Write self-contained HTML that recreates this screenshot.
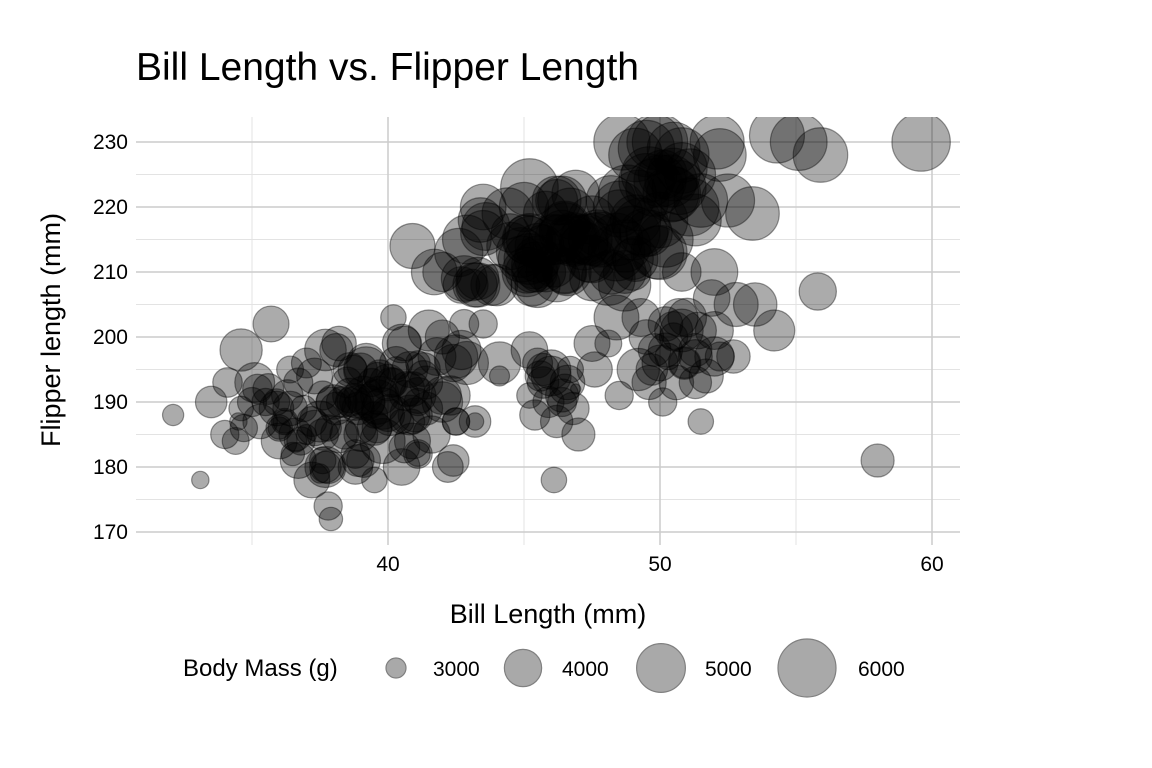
<!DOCTYPE html>
<html><head><meta charset="utf-8">
<style>
body{margin:0;background:#fff;}
svg{display:block;font-family:"Liberation Sans",sans-serif;}
</style></head>
<body>
<svg id="chart" width="1152" height="768">
<text x="136" y="80" font-size="39" fill="#000">Bill Length vs. Flipper Length</text>
<g id="grid"></g>
<defs><clipPath id="clip"><rect x="136" y="117" width="824" height="428"/></clipPath></defs>
<g id="points" clip-path="url(#clip)"></g>
<g id="axes"></g>
<text x="548" y="623" font-size="27" text-anchor="middle">Bill Length (mm)</text>
<text transform="translate(60,330) rotate(-90)" font-size="27" text-anchor="middle">Flipper length (mm)</text>
<g id="legend"></g>
</svg>
<script>
const xTicks=[40,50,60];
const yTicks=[170,180,190,200,210,220,230];
const legendMass=[3000,4000,5000,6000];
const billLength=[39.1,39.5,40.3,36.7,39.3,38.9,39.2,34.1,42,37.8,37.8,41.1,38.6,34.6,36.6,38.7,42.5,34.4,46,37.8,37.7,35.9,38.2,38.8,35.3,40.6,40.5,37.9,40.5,39.5,37.2,39.5,40.9,36.4,39.2,38.8,42.2,37.6,39.8,36.5,40.8,36,44.1,37,39.6,41.1,37.5,42.3,39.6,40.1,35,42,34.5,41.4,39,40.6,37.6,35.7,41.3,37.6,41.1,36.2,37.7,40.2,36.4,39.0,38.3,41.1,36.0,38.9,41.5,37.9,40.0,36.6,41.3,38.8,35.5,40.9,37.2,40.5,38.1,36.8,40.6,35.9,38.4,41.0,37.3,39.7,36.3,40.7,38.6,42.4,33.5,34.0,32.1,33.1,35.1,34.6,36.2,38.5,39.7,41.8,40.3,42.9,43.2,44.1,39.0,37.7,38.1,36.9,40.1,38.0,39.6,41.6,42.7,39.2,40.2,37.3,35.6,38.8,40.8,42.0,41.1,36.7,39.4,38.2,37.0,39.1,40.0,42.8,35.2,34.7,36.0,37.5,39.8,41.4,43.1,38.6,
46.1,50,48.7,50,47.6,46.5,45.4,46.7,43.3,46.8,40.9,49,45.5,48.4,45.8,49.3,42,49.2,46.2,48.7,50.2,45.1,46.5,46.3,42.9,46.1,44.5,47.8,48.2,50,47.3,42.8,45.1,59.6,49.1,48.4,42.6,44.4,44,48.7,42.7,49.6,45.3,49.6,50.5,43.6,45.5,50.5,44.9,45.2,46.6,48.5,45.1,50.1,46.5,45,43.8,45.5,43.2,50.4,45.3,46.2,45.7,54.3,45.8,49.8,49.5,43.5,50.7,47.7,46.4,48.2,46.5,46.4,48.6,47.5,51.1,45.2,45.2,49.1,52.5,47.4,50,44.9,50.8,43.4,51.3,47.5,52.1,47.5,52.2,45.5,49.5,44.5,50.8,49.4,46.9,48.4,51.1,48.5,55.9,47.2,49.1,46.8,41.7,53.4,43.3,48.1,50.5,49.8,43.5,51.5,46.2,55.1,48.8,47.2,46.8,50.4,45.2,49.9,
46.5,50,51.3,45.4,52.7,45.2,46.1,51.3,46,51.3,46.6,51.7,47,52,45.9,50.5,50.3,58,46.4,49.2,42.4,48.5,43.2,50.6,46.7,52,50.5,49.5,46.4,52.8,40.9,54.2,42.5,51,49.7,47.5,47.6,52,46.9,53.5,49,46.2,50.9,45.5,50.9,50.8,50.1,49,51.5,49.8,48.1,51.4,45.7,50.7,42.5,52.2,45.2,49.3,50.2,45.6,51.9,46.8,45.7,55.8,43.5,49.6,50.8,50.2];
const flipperLength=[181,186,195,193,190,181,195,193,190,186,180,182,191,198,185,195,197,184,194,174,180,189,185,180,187,183,187,172,180,178,178,188,184,195,196,190,180,181,184,182,195,186,196,185,190,182,179,191,186,188,190,191,187,189,186,199,191,202,194,185,190,187,198,193,189,195,190,191,186,189,201,190,193,184,195,182,190,192,187,199,189,184,191,190,185,188,194,194,191,192,195,196,190,185,188,178,193,189,187,193,191,197,196,196,187,194,185,180,198,189,193,190,194,185,198,190,203,186,192,190,188,200,196,181,193,199,196,191,188,202,192,186,184,187,189,193,208,190,
211,230,210,218,215,210,211,219,209,215,214,216,214,213,210,217,210,221,209,214,215,215,210,215,215,215,216,215,210,213,215,209,210,230,218,215,213,219,208,208,208,225,210,216,222,217,210,225,213,215,210,220,210,225,217,220,208,208,208,224,208,221,214,231,219,230,229,220,223,216,221,221,217,216,230,209,220,215,223,212,221,212,224,212,228,218,218,212,230,218,228,212,224,214,226,216,222,203,225,219,228,215,228,215,210,219,208,209,229,223,216,221,221,230,222,214,215,222,212,213,
192,196,193,188,197,198,178,197,195,198,193,194,185,201,190,201,197,181,190,195,181,191,187,193,195,197,200,200,191,205,187,201,187,203,195,199,195,210,192,205,210,187,196,196,196,201,190,212,187,198,199,201,193,203,187,197,191,203,202,194,206,189,195,207,202,193,210,198];
const bodyMass=[3750,3800,3250,3450,3650,3625,4675,3475,4250,3300,3700,3200,3800,4400,3700,3450,4500,3325,4200,3400,3600,3800,3950,3800,3800,3550,3200,3150,3950,3250,3900,3300,3900,3325,4150,3950,3550,3300,4650,3150,3900,3100,4400,3000,4600,3425,2975,4150,3500,4300,3450,4050,2900,3700,3550,3800,3450,3900,3550,3600,3350,3300,4350,3450,3800,3700,3550,3900,3300,3650,4300,3500,3950,3100,3750,3425,3350,3800,3500,4100,3675,3400,3500,3300,3450,3775,3900,3650,3600,3825,3750,4000,3600,3400,3050,2900,4200,3200,3150,3550,4100,4050,3700,4475,3600,3000,3750,4300,3700,3300,3500,3800,3350,4000,4150,3950,3250,3875,3550,3600,4200,3775,3200,3900,3400,3800,3500,4100,3700,3450,3475,3350,3900,4300,4350,3700,3600,3450,
4500,5700,4450,5700,5400,4550,4800,5200,4400,5150,4650,5550,4650,5850,4200,5850,4150,6300,4800,5350,5700,5000,4400,5050,5000,5100,4100,5650,4600,5550,5250,4700,5050,6050,5150,5400,4950,5250,4350,5350,3950,5700,4300,4750,5550,4900,4200,5400,5100,5300,4850,5300,4400,5000,4900,5050,4300,4650,4575,5350,4400,5000,4400,5650,4600,5700,5800,4700,5550,4750,5000,5100,5200,4700,5800,4600,6000,4750,5950,4625,5450,4725,5350,4750,5600,4600,5300,4875,5550,4950,5400,4750,5650,4850,5200,4925,4875,4625,5250,4850,5600,4975,5500,5500,4700,5500,4575,5500,5400,5950,4650,5500,4375,5850,6000,4925,4850,5750,5200,5400,
3500,3900,3650,3525,3725,3950,3250,3750,4150,3700,3800,3775,3700,4050,3575,4050,3300,3700,3450,4400,3600,3400,2900,3800,3300,4150,3400,3800,3700,4550,3200,4300,3350,4100,3600,3900,3850,4800,2700,4500,3950,3650,3550,3500,3675,4450,3400,4300,3250,3675,3325,3950,3600,4050,3350,3450,3250,4050,3800,3525,3950,3650,3650,4000,3400,3775,4100,3775];

const L=136,R=960,T=117,B=545;
const x=v=>388+(v-40)*27.2;
const y=v=>142+(230-v)*6.5;
const r=m=>Math.sqrt(Math.max(16,100+0.247*(m-3000)));
const NS="http://www.w3.org/2000/svg";
function mk(tag,attrs,parent){const e=document.createElementNS(NS,tag);for(const k in attrs)e.setAttribute(k,attrs[k]);parent.appendChild(e);return e;}
const grid=document.getElementById('grid');
[35,45,55].forEach(v=>{const l=mk('line',{x1:x(v),x2:x(v),y1:T,y2:B,stroke:'#e3e3e3','stroke-width':1},grid);

});
[175,185,195,205,215,225].forEach(v=>{const l=mk('line',{x1:L,x2:R,y1:y(v),y2:y(v),stroke:'#e3e3e3','stroke-width':1},grid);

});
xTicks.forEach(v=>{const l=mk('line',{x1:x(v),x2:x(v),y1:T,y2:B,stroke:'#cccccc','stroke-width':1.5},grid);

});
yTicks.forEach(v=>{const l=mk('line',{x1:L,x2:R,y1:y(v),y2:y(v),stroke:'#cccccc','stroke-width':1.5},grid);

});
const axes=document.getElementById('axes');
xTicks.forEach(v=>{const t=mk('text',{x:x(v),y:571,'font-size':21,'text-anchor':'middle'},axes);t.textContent=v;

});
yTicks.forEach(v=>{const t=mk('text',{x:128,y:y(v)+7,'font-size':21,'text-anchor':'end'},axes);t.textContent=v;

});
const pts=document.getElementById('points');
const n=Math.min(billLength.length,flipperLength.length,bodyMass.length);
for(let i=0;i<n;i++){
 const c=mk('circle',{cx:x(billLength[i]),cy:y(flipperLength[i]),r:r(bodyMass[i]),fill:'rgba(0,0,0,0.33)',stroke:'rgba(0,0,0,0.4)','stroke-width':1.2},pts);
 
 
}
const lg=document.getElementById('legend');
const lt=mk('text',{x:183,y:676,'font-size':24},lg);lt.textContent='Body Mass (g)';


const lx=[396,523,661,807];
const ltx=[433,562,705,858];
legendMass.forEach((m,i)=>{
 const c=mk('circle',{cx:lx[i],cy:668,r:r(m),fill:'#a9a9a9',stroke:'#808080','stroke-width':1.2},lg);
 
 
 const t=mk('text',{x:ltx[i],y:676,'font-size':21},lg);t.textContent=m;
 
 
});
</script>
</body></html>
